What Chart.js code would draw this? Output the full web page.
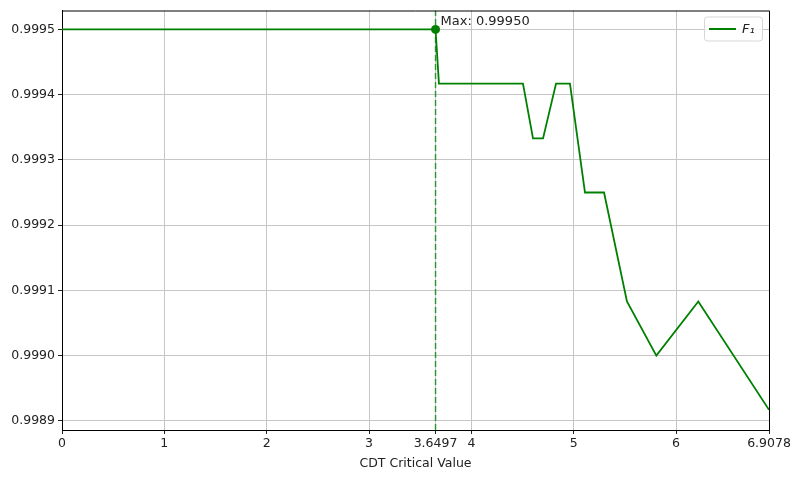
<!DOCTYPE html>
<html>
<head>
<meta charset="utf-8">
<script src="https://cdn.jsdelivr.net/npm/chart.js@4.4.0/dist/chart.umd.min.js"></script>
<style>
  html, body { margin: 0; padding: 0; background: #fff; }
  #wrap { width: 800px; height: 479px; }
</style>
</head>
<body>
<div id="wrap"><canvas id="myChart" width="800" height="479"></canvas></div>
<script>
// datos
const cdtValues = [0, 3.6497, 3.683, 4.504, 4.602, 4.700, 4.827, 4.963, 5.110, 5.296, 5.520, 5.807, 6.217, 6.9078];
const f1Values = [0.99950, 0.99950, 0.999417, 0.999417, 0.999333, 0.999333, 0.999417, 0.999417, 0.99925, 0.99925, 0.999083, 0.99900, 0.999083, 0.998917];
const xTicks = [0, 1, 2, 3, 3.6497, 4, 5, 6, 6.9078];
const yTicks = [0.9989, 0.9990, 0.9991, 0.9992, 0.9993, 0.9994, 0.9995];
const maxX = 3.6497;
const maxY = 0.99950;
const maxLabel = 'Max: 0.99950';
const legendLabel = 'F₁';

const xMin = 0, xMax = 6.9078;
const yMin = 0.998886, yMax = 0.999529;

const GREEN = '#008000';
const FONT = 'DejaVu Sans, sans-serif';

const puntos = cdtValues.map((x, i) => ({ x: x, y: f1Values[i] }));

// marco superior/derecho, texto del maximo y leyenda
const extras = {
  id: 'extras',
  afterDraw(chart) {
    const { ctx, chartArea } = chart;
    const xs = chart.scales.x, ys = chart.scales.y;
    ctx.save();
    ctx.strokeStyle = '#000';
    ctx.lineWidth = 1;
    ctx.beginPath();
    ctx.moveTo(chartArea.left, chartArea.top + 0.5);
    ctx.lineTo(chartArea.right + 0.5, chartArea.top + 0.5);
    ctx.lineTo(chartArea.right + 0.5, chartArea.bottom);
    ctx.stroke();

    // texto max
    ctx.fillStyle = '#222';
    ctx.font = '13px ' + FONT;
    ctx.textBaseline = 'middle';
    ctx.textAlign = 'left';
    ctx.fillText(maxLabel, xs.getPixelForValue(maxX) + 5, ys.getPixelForValue(maxY) - 8);

    // leyenda
    const bx = chartArea.right - 65, by = chartArea.top + 6, bw = 58, bh = 24;
    ctx.fillStyle = 'rgba(255,255,255,0.8)';
    ctx.strokeStyle = '#d6d6d6';
    ctx.beginPath();
    ctx.roundRect(bx + 0.5, by + 0.5, bw, bh, 3);
    ctx.fill();
    ctx.stroke();
    ctx.strokeStyle = GREEN;
    ctx.lineWidth = 2;
    ctx.beginPath();
    ctx.moveTo(bx + 5, by + 12.5);
    ctx.lineTo(bx + 32, by + 12.5);
    ctx.stroke();
    ctx.fillStyle = '#222';
    ctx.font = 'italic 13px ' + FONT;
    ctx.fillText(legendLabel, bx + 38, by + 13);
    ctx.restore();
  }
};

const ctx = document.querySelector('#myChart').getContext('2d');
const myChart = new Chart(ctx, {
  type: 'scatter',
  data: {
    datasets: [
      {
        label: 'F1',
        data: puntos,
        showLine: true,
        borderColor: GREEN,
        borderWidth: 1.8,
        pointRadius: 0,
        tension: 0
      },
      {
        label: 'linea max',
        data: [{ x: maxX, y: yMin }, { x: maxX, y: yMax }],
        showLine: true,
        borderColor: 'rgba(0,128,0,0.75)',
        borderWidth: 1.5,
        borderDash: [6, 3],
        pointRadius: 0
      },
      {
        label: 'max',
        data: [{ x: maxX, y: maxY }],
        pointRadius: 4.5,
        backgroundColor: GREEN,
        borderColor: GREEN,
        borderWidth: 0
      }
    ]
  },
  plugins: [extras],
  options: {
    responsive: false,
    animation: false,
    layout: { padding: { top: 9, right: 31, left: 0, bottom: 0 } },
    plugins: {
      legend: { display: false },
      tooltip: { enabled: false }
    },
    scales: {
      x: {
        type: 'linear',
        min: xMin,
        max: xMax,
        afterBuildTicks: (scale) => { scale.ticks = xTicks.map(v => ({ value: v })); },
        afterFit: (scale) => { scale.height = 49; },
        ticks: {
          color: '#222',
          font: { family: FONT, size: 12.5 },
          padding: 2,
          maxRotation: 0,
          autoSkip: false,
          callback: (v) => String(v)
        },
        grid: {
          color: '#c6c6c6',
          lineWidth: 1,
          tickColor: '#222',
          tickLength: 4
        },
        border: { color: '#000', width: 1 },
        title: {
          display: true,
          text: 'CDT Critical Value',
          color: '#222',
          font: { family: FONT, size: 12.5 },
          padding: { top: 2, bottom: 8 }
        }
      },
      y: {
        type: 'linear',
        min: yMin,
        max: yMax,
        afterBuildTicks: (scale) => { scale.ticks = yTicks.map(v => ({ value: v })); },
        afterFit: (scale) => { scale.width = 62; },
        ticks: {
          color: '#222',
          font: { family: FONT, size: 12.5 },
          padding: 3,
          callback: (v) => v.toFixed(4)
        },
        grid: {
          color: '#c6c6c6',
          lineWidth: 1,
          tickColor: '#222',
          tickLength: 4
        },
        border: { color: '#000', width: 1 }
      }
    }
  }
});
</script>
</body>
</html>
